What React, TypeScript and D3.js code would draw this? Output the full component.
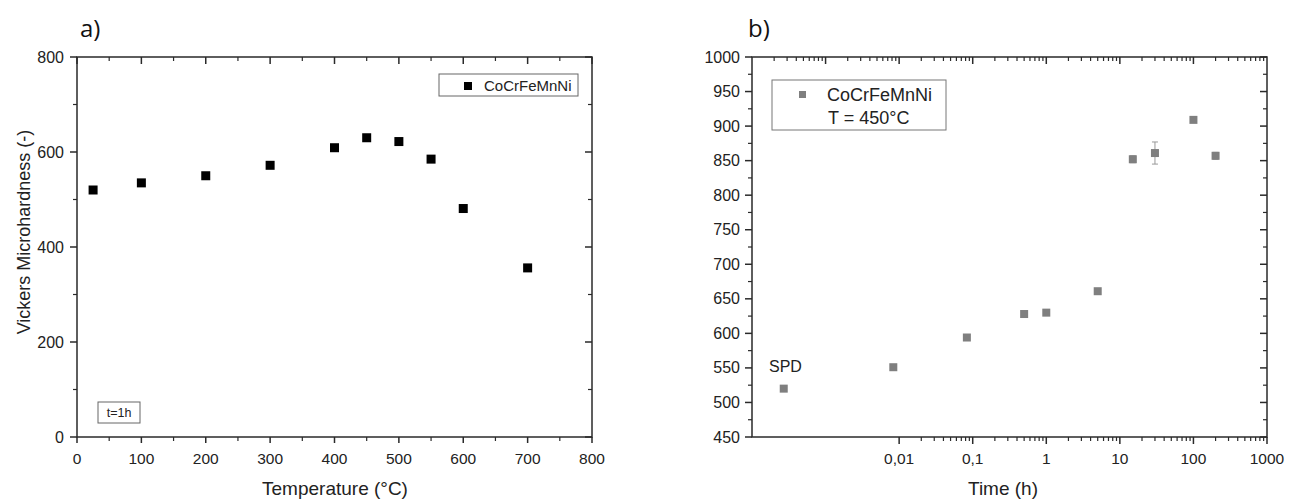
import React from "react";
import * as d3 from "d3";

// Panel a data
const tempC = [25, 100, 200, 300, 400, 450, 500, 550, 600, 700];
const hardnessA = [520, 535, 550, 572, 609, 630, 622, 585, 481, 356];
const xTicksA = [0, 100, 200, 300, 400, 500, 600, 700, 800];
const yTicksA = [0, 200, 400, 600, 800];

// Panel b data
const timeH = [0.00027, 0.00833, 0.0833, 0.5, 1, 5, 15, 30, 100, 200];
const hardnessB = [520, 551, 594, 628, 630, 661, 852, 861, 909, 857];
const errB = [2, 2, 4, 2, 2, 2, 5, 16, 2, 5];
const xTickValsB = [0.01, 0.1, 1, 10, 100, 1000];
const xTickLabelsB = ["0,01", "0,1", "1", "10", "100", "1000"];
const yTicksB = [450, 500, 550, 600, 650, 700, 750, 800, 850, 900, 950, 1000];

const FONT = "'Liberation Sans', Arial, sans-serif";
const AX = "#2a2a2a";
const TF = 15.5;

export default function App() {
  // Panel a scales
  const ax = d3.scaleLinear().domain([0, 800]).range([77, 592]);
  const ay = d3.scaleLinear().domain([0, 800]).range([437, 57]);
  // Panel b scales
  const bx = d3.scaleLog().domain([1e-4, 1000]).range([752, 1267]);
  const by = d3.scaleLinear().domain([450, 1000]).range([437, 57]);

  const minorA = d3.range(50, 800, 100);
  const minorAY = d3.range(100, 800, 200);
  const minorBY = d3.range(475, 1000, 50);
  const logTicks = bx.ticks().filter((v) => v > 1e-4 && v < 1000);
  const isMajor = (v: number) => Math.abs(Math.log10(v) - Math.round(Math.log10(v))) < 1e-6;

  const [ax0, ax1] = ax.range();
  const [ay0, ay1] = ay.range();
  const [bx0, bx1] = bx.range();
  const [by0, by1] = by.range();

  return (
    <svg width={1299} height={502} style={{ position: "absolute", left: 0, top: 0, display: "block" }}>
      <rect x={0} y={0} width={1299} height={502} fill="#fff" />
      {/* ---------- Panel a ---------- */}
      <text x={80} y={37} fontFamily="'Open Sans', sans-serif" fontSize={24} fill="#111">a)</text>
      {xTicksA.map((t) => (
        <g key={"axt" + t}>
          <line x1={ax(t)} x2={ax(t)} y1={ay0} y2={ay0 + 6} stroke={AX} strokeWidth={1.5} />
          <line x1={ax(t)} x2={ax(t)} y1={ay1} y2={ay1 + 7} stroke={AX} strokeWidth={1.5} />
          <text x={ax(t)} y={ay0 + 27} textAnchor="middle" fontFamily={FONT} fontSize={TF} fill="#222">{t}</text>
        </g>
      ))}
      {minorA.map((t) => (
        <g key={"axm" + t}>
          <line x1={ax(t)} x2={ax(t)} y1={ay0} y2={ay0 + 4} stroke={AX} strokeWidth={1.2} />
          <line x1={ax(t)} x2={ax(t)} y1={ay1} y2={ay1 + 4} stroke={AX} strokeWidth={1.2} />
        </g>
      ))}
      {yTicksA.map((t) => (
        <g key={"ayt" + t}>
          <line x1={ax0 - 7} x2={ax0} y1={ay(t)} y2={ay(t)} stroke={AX} strokeWidth={1.5} />
          <line x1={ax1 - 7} x2={ax1} y1={ay(t)} y2={ay(t)} stroke={AX} strokeWidth={1.5} />
          <text x={ax0 - 13} y={ay(t) + 5.5} textAnchor="end" fontFamily={FONT} fontSize={16} fill="#222">{t}</text>
        </g>
      ))}
      {minorAY.map((t) => (
        <g key={"aym" + t}>
          <line x1={ax0 - 4} x2={ax0} y1={ay(t)} y2={ay(t)} stroke={AX} strokeWidth={1.2} />
          <line x1={ax1 - 4} x2={ax1} y1={ay(t)} y2={ay(t)} stroke={AX} strokeWidth={1.2} />
        </g>
      ))}
      <rect x={ax0} y={ay1} width={ax1 - ax0} height={ay0 - ay1} fill="none" stroke={AX} strokeWidth={1.5} />
      {tempC.map((t, i) => (
        <rect key={"pa" + i} x={ax(t) - 4.5} y={ay(hardnessA[i]) - 4.5} width={9} height={9} fill="#000" />
      ))}
      <text transform={`translate(30,232) rotate(-90)`} textAnchor="middle" fontFamily={FONT} fontSize={18} fill="#222">Vickers Microhardness (-)</text>
      <text x={335} y={495} textAnchor="middle" fontFamily={FONT} fontSize={19} fill="#222">Temperature (°C)</text>
      {/* legend a */}
      <rect x={439} y={74} width={139} height={22} fill="#fff" stroke="#666" strokeWidth={1} />
      <rect x={464} y={82} width={8} height={8} fill="#000" />
      <text x={484} y={91} fontFamily={FONT} fontSize={15} fill="#222">CoCrFeMnNi</text>
      {/* t=1h box */}
      <rect x={98} y={402} width={42} height={21} fill="#fff" stroke="#666" strokeWidth={1} />
      <text x={119} y={417} textAnchor="middle" fontFamily={FONT} fontSize={12.5} fill="#222">t=1h</text>

      {/* ---------- Panel b ---------- */}
      <text x={748} y={37} fontFamily="'Open Sans', sans-serif" fontSize={24} fill="#111">b)</text>
      {logTicks.map((t, i) => {
        const M = isMajor(t);
        return (
          <g key={"bxt" + i}>
            <line x1={bx(t)} x2={bx(t)} y1={by1} y2={by1 + (M ? 7 : 4)} stroke={AX} strokeWidth={M ? 1.5 : 1.2} />
            {t >= 0.01 && (
              <line x1={bx(t)} x2={bx(t)} y1={by0} y2={by0 + (M ? 7 : 4)} stroke={AX} strokeWidth={M ? 1.5 : 1.2} />
            )}
          </g>
        );
      })}
      <line x1={bx1} x2={bx1} y1={by0} y2={by0 + 7} stroke={AX} strokeWidth={1.5} />
      {xTickValsB.map((t, i) => (
        <text key={"bxl" + i} x={bx(t)} y={by0 + 27} textAnchor="middle" fontFamily={FONT} fontSize={TF} fill="#222">{xTickLabelsB[i]}</text>
      ))}
      {yTicksB.map((t) => (
        <g key={"byt" + t}>
          <line x1={bx0 - 7} x2={bx0} y1={by(t)} y2={by(t)} stroke={AX} strokeWidth={1.5} />
          <line x1={bx1 - 7} x2={bx1} y1={by(t)} y2={by(t)} stroke={AX} strokeWidth={1.5} />
          <text x={bx0 - 12} y={by(t) + 5.5} textAnchor="end" fontFamily={FONT} fontSize={16} fill="#222">{t}</text>
        </g>
      ))}
      {minorBY.map((t) => (
        <g key={"bym" + t}>
          <line x1={bx0 - 4} x2={bx0} y1={by(t)} y2={by(t)} stroke={AX} strokeWidth={1.2} />
          <line x1={bx1 - 4} x2={bx1} y1={by(t)} y2={by(t)} stroke={AX} strokeWidth={1.2} />
        </g>
      ))}
      <rect x={bx0} y={by1} width={bx1 - bx0} height={by0 - by1} fill="none" stroke={AX} strokeWidth={1.5} />
      {timeH.map((t, i) => (
        <g key={"pb" + i}>
          <line x1={bx(t)} x2={bx(t)} y1={by(hardnessB[i] + errB[i])} y2={by(hardnessB[i] - errB[i])} stroke="#999" strokeWidth={1} />
          <line x1={bx(t) - 3} x2={bx(t) + 3} y1={by(hardnessB[i] + errB[i])} y2={by(hardnessB[i] + errB[i])} stroke="#999" strokeWidth={1} />
          <line x1={bx(t) - 3} x2={bx(t) + 3} y1={by(hardnessB[i] - errB[i])} y2={by(hardnessB[i] - errB[i])} stroke="#999" strokeWidth={1} />
          <rect x={bx(t) - 4} y={by(hardnessB[i]) - 4} width={8} height={8} fill="#7f7f7f" />
        </g>
      ))}
      <text x={769} y={372} fontFamily={FONT} fontSize={16} fill="#222">SPD</text>
      <text x={1003} y={495} textAnchor="middle" fontFamily={FONT} fontSize={19} fill="#222">Time (h)</text>
      {/* legend b */}
      <rect x={772} y={80} width={174} height={50} fill="#fff" stroke="#777" strokeWidth={1} />
      <rect x={799} y={91} width={7} height={7} fill="#7f7f7f" />
      <text x={827} y={101} fontFamily={FONT} fontSize={18} fill="#222">CoCrFeMnNi</text>
      <text x={828} y={123.5} fontFamily={FONT} fontSize={18} fill="#222">T = 450°C</text>
    </svg>
  );
}
